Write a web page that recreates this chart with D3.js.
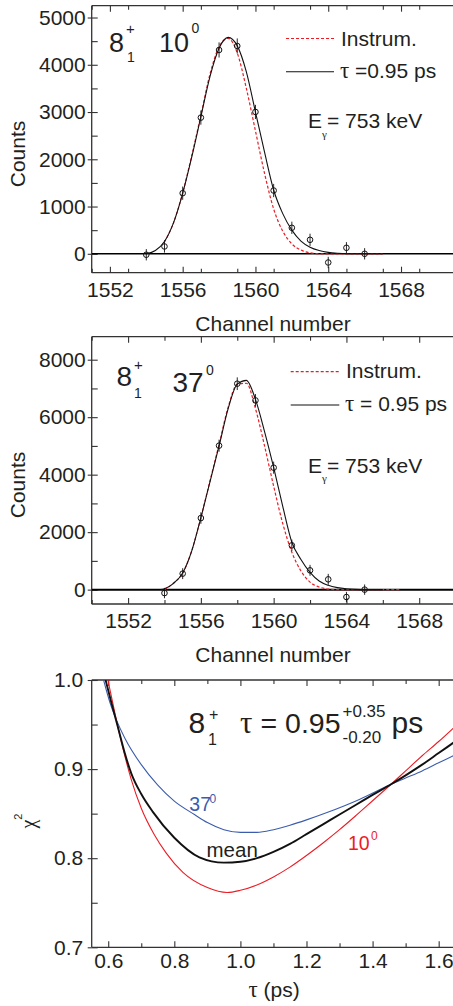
<!DOCTYPE html>
<html>
<head>
<meta charset="utf-8">
<script src="https://cdn.jsdelivr.net/npm/d3@7"></script>
<style>
  html, body { margin: 0; padding: 0; background: #fff; }
  svg { display: block; }
  text { font-family: "Liberation Sans", Arial, sans-serif; fill: #231f20; }
  .greek { font-family: "Liberation Serif", "Times New Roman", serif; }
</style>
</head>
<body>
<svg id="chart" width="453" height="1006"></svg>
<script>
// ---------------- DATA ----------------
// Panel 1 (10 deg)
const p1Channels = [1554,1555,1556,1557,1558,1559,1560,1561,1562,1563,1564,1565,1566];
const p1Counts   = [-20,155,1283,2882,4313,4397,3002,1339,550,296,-184,127,0];
const p1Errors   = [120,130,140,150,160,160,150,140,130,130,120,120,120];
const p1FitX  = [1554,1554.5,1555,1555.5,1556,1556.5,1557,1557.5,1558,1558.5,1559,1559.5,1560,1560.5,1561,1561.5,1562,1562.5,1563,1563.5,1564,1564.5,1565,1566,1567];
const p1FitY  = [0,70,260,660,1280,2050,2900,3750,4350,4580,4400,3850,3000,2150,1350,850,500,270,140,70,30,10,0,0,0];
const p1InstX = [1555,1555.5,1556,1556.5,1557,1557.5,1558,1558.5,1559,1559.5,1560,1560.5,1561,1561.5,1562,1562.5,1563,1563.5,1564,1565,1566,1567];
const p1InstY = [250,660,1290,2080,2930,3800,4380,4560,4250,3500,2600,1700,950,480,210,80,20,0,0,0,0,0];
const p1XTicks = [1552,1556,1560,1564,1568];
const p1YTicks = [0,1000,2000,3000,4000,5000];

// Panel 2 (37 deg)
const p2Channels = [1554,1555,1556,1557,1558,1559,1560,1561,1562,1563,1564,1565];
const p2Counts   = [-120,556,2490,5009,7165,6584,4243,1541,671,358,-257,0];
const p2Errors   = [180,190,200,210,220,220,210,200,190,190,180,180];
const p2FitX  = [1553.8,1554,1554.5,1555,1555.5,1556,1556.5,1557,1557.5,1558,1558.5,1559,1559.5,1560,1560.5,1561,1561.5,1562,1562.5,1563,1563.5,1564,1564.5,1565,1566];
const p2FitY  = [0,30,220,580,1350,2500,3750,5000,6300,7150,7280,6620,5500,4250,2900,1650,1050,600,300,150,70,30,10,0,0];
const p2InstX = [1554,1554.5,1555,1555.5,1556,1556.5,1557,1557.5,1558,1558.5,1559,1559.5,1560,1560.5,1561,1561.5,1562,1562.5,1563,1563.5,1564,1565,1566,1567];
const p2InstY = [0,230,570,1360,2510,3780,5050,6350,7150,7180,6300,5000,3600,2300,1300,650,260,90,20,0,0,0,0,0];
const p2XTicks = [1552,1556,1560,1564,1568];
const p2YTicks = [0,2000,4000,6000,8000];

// Panel 3 (chi^2 vs tau)
const tau37  = [0.586,0.605,0.625,0.65,0.70,0.75,0.80,0.861,0.90,0.95,1.00,1.05,1.10,1.15,1.20,1.26,1.36,1.456,1.50,1.55,1.60,1.65];
const chi37  = [1.0,0.975,0.955,0.935,0.905,0.882,0.864,0.849,0.840,0.832,0.829,0.829,0.832,0.837,0.843,0.851,0.866,0.883,0.890,0.898,0.907,0.916];
const tauMean = [0.592,0.61,0.63,0.65,0.67,0.70,0.735,0.80,0.876,0.95,1.00,1.05,1.10,1.15,1.20,1.25,1.30,1.35,1.40,1.456,1.50,1.55,1.60,1.65];
const chiMean = [1.0,0.974,0.946,0.918,0.895,0.872,0.852,0.823,0.801,0.795,0.796,0.800,0.807,0.816,0.827,0.838,0.849,0.860,0.871,0.883,0.893,0.905,0.918,0.931];
const tau10  = [0.599,0.615,0.63,0.65,0.67,0.70,0.74,0.775,0.826,0.90,0.96,1.00,1.05,1.10,1.15,1.20,1.25,1.30,1.35,1.40,1.456,1.50,1.55,1.60,1.65];
const chi10  = [1.0,0.972,0.946,0.915,0.888,0.856,0.826,0.806,0.784,0.767,0.7615,0.764,0.770,0.779,0.790,0.803,0.817,0.832,0.848,0.8645,0.883,0.898,0.915,0.931,0.948];
const p3XTicks = [0.6,0.8,1.0,1.2,1.4,1.6];
const p3YTicks = [0.7,0.8,0.9,1.0];

// ---------------- DRAWING ----------------
const svg = d3.select("#chart");
const AX = "#333";
const RED = "#ec1c24";
const BLUE = "#3b5cad";
const L = 91.7;

function frame(g, x, y, top, bottom, xMajor, xMinor, yMajor, yMinor, xFmt, yFmt, xPad, yPad) {
  const gb = g.append("g").attr("transform", `translate(0,${bottom})`);
  gb.call(d3.axisBottom(x).tickValues(xMajor).tickSize(-6).tickSizeOuter(0).tickPadding(xPad).tickFormat(xFmt));
  gb.append("g").call(d3.axisBottom(x).tickValues(xMinor).tickSize(-4).tickSizeOuter(0).tickFormat(""));
  const gt = g.append("g").attr("transform", `translate(0,${top})`);
  gt.call(d3.axisTop(x).tickValues(xMajor).tickSize(-6).tickSizeOuter(0).tickFormat(""));
  gt.append("g").call(d3.axisTop(x).tickValues(xMinor).tickSize(-4).tickSizeOuter(0).tickFormat(""));
  const gl = g.append("g").attr("transform", `translate(${L},0)`);
  gl.call(d3.axisLeft(y).tickValues(yMajor).tickSize(4).tickSizeOuter(0).tickPadding(yPad).tickFormat(yFmt));
  gl.append("g").call(d3.axisLeft(y).tickValues(yMajor.concat(yMinor)).tickSize(-6).tickSizeOuter(0).tickFormat(""));
  g.selectAll(".domain").remove();
  g.selectAll(".tick line").attr("stroke", AX).attr("stroke-width", 1.1);
  g.selectAll(".tick text").attr("font-size", 21).attr("fill", "#231f20")
    .style("font-family", "'Liberation Sans', Arial, sans-serif");
  g.append("line").attr("x1", L).attr("x2", 460).attr("y1", bottom).attr("y2", bottom).attr("stroke", AX).attr("stroke-width", 1.3);
  g.append("line").attr("x1", L).attr("x2", 460).attr("y1", top).attr("y2", top).attr("stroke", AX).attr("stroke-width", 1.3);
  g.append("line").attr("x1", L).attr("x2", L).attr("y1", top).attr("y2", bottom).attr("stroke", AX).attr("stroke-width", 1.3);
}

function txt(g, x, y, s, size, opts = {}) {
  const t = g.append("text").attr("x", x).attr("y", y).attr("font-size", size).text(s);
  if (opts.fill) t.style("fill", opts.fill);
  if (opts.cls) t.attr("class", opts.cls);
  if (opts.anchor) t.attr("text-anchor", opts.anchor);
  return t;
}

function spectrumPanel(cfg) {
  const g = svg.append("g");
  const x = d3.scaleLinear().domain(cfg.xDom).range([L, 455.6]);
  const y = d3.scaleLinear().domain(cfg.yDom).range([cfg.bottom, cfg.top]);
  const clipId = "clip" + cfg.id;
  svg.append("clipPath").attr("id", clipId).append("rect")
    .attr("x", L).attr("y", cfg.top).attr("width", 453 - L).attr("height", cfg.bottom - cfg.top);
  const xMinor = d3.range(cfg.xDom[0], cfg.xDom[1] + 0.01, 2).filter(v => !cfg.xTicks.includes(v));
  const yMinor = d3.range(cfg.yTicks[0] + cfg.yStep / 2, cfg.yDom[1], cfg.yStep).filter(v => !cfg.yTicks.includes(v));
  frame(g, x, y, cfg.top, cfg.bottom, cfg.xTicks, xMinor, cfg.yTicks, yMinor, d3.format("d"), d3.format("d"), 9.5, 2);

  const pg = g.append("g").attr("clip-path", `url(#${clipId})`);
  pg.append("line").attr("x1", L).attr("x2", 453).attr("y1", y(0)).attr("y2", y(0))
    .attr("stroke", "#000").attr("stroke-width", cfg.zeroW);
  const line = d3.line().x(d => x(d[0])).y(d => y(d[1])).curve(d3.curveMonotoneX);
  pg.append("path").datum(d3.zip(cfg.instX, cfg.instY)).attr("d", line)
    .attr("fill", "none").attr("stroke", RED).attr("stroke-width", 1.2).attr("stroke-dasharray", "3,2");
  pg.append("path").datum(d3.zip(cfg.fitX, cfg.fitY)).attr("d", line)
    .attr("fill", "none").attr("stroke", "#111").attr("stroke-width", 1.1);
  const pts = d3.zip(cfg.ch, cfg.counts, cfg.err);
  pg.selectAll(".eb").data(pts).join("line").attr("class", "eb")
    .attr("x1", d => x(d[0])).attr("x2", d => x(d[0]))
    .attr("y1", d => y(d[1] - d[2])).attr("y2", d => y(d[1] + d[2]))
    .attr("stroke", "#111").attr("stroke-width", 0.9);
  pg.selectAll(".pt").data(pts).join("circle").attr("class", "pt")
    .attr("cx", d => x(d[0])).attr("cy", d => y(d[1])).attr("r", 2.8)
    .attr("fill", "none").attr("stroke", "#111").attr("stroke-width", 1);

  txt(g, 273, cfg.bottom + 58, "Channel number", 21, { anchor: "middle" });
  g.append("text").attr("transform", `translate(25,${cfg.countsY}) rotate(-90)`)
    .attr("text-anchor", "middle").attr("font-size", 21).text("Counts");
  return { g, x, y };
}

// ---- Panel 1 ----
const P1 = spectrumPanel({ id: 1, xDom: [1551, 1571], yDom: [-400, 5250], top: 5.7, bottom: 272.7,
  xTicks: p1XTicks, yTicks: p1YTicks, yStep: 1000, zeroW: 1.5,
  ch: p1Channels, counts: p1Counts, err: p1Errors,
  fitX: p1FitX, fitY: p1FitY, instX: p1InstX, instY: p1InstY, countsY: 154 });
{
  const g = P1.g;
  txt(g, 109, 52, "8", 27);
  txt(g, 126, 34, "+", 15);
  txt(g, 127, 62, "1", 14);
  txt(g, 159, 52, "10", 27);
  txt(g, 191.5, 33, "0", 14);
  g.append("line").attr("x1", 286).attr("x2", 334).attr("y1", 38.5).attr("y2", 38.5)
    .attr("stroke", RED).attr("stroke-width", 1.2).attr("stroke-dasharray", "3,2");
  txt(g, 341, 46, "Instrum.", 21);
  g.append("line").attr("x1", 286).attr("x2", 334).attr("y1", 71.7).attr("y2", 71.7)
    .attr("stroke", "#111").attr("stroke-width", 1.1);
  const t = g.append("text").attr("x", 340).attr("y", 78).attr("font-size", 21);
  t.append("tspan").attr("class", "greek").attr("font-size", 23).text("τ");
  t.append("tspan").text(" =0.95 ps");
  txt(g, 308, 128, "E", 21);
  txt(g, 322, 137.5, "γ", 11, { cls: "greek" });
  txt(g, 327, 128, "= 753 keV", 21);
}

// ---- Panel 2 ----
const P2 = spectrumPanel({ id: 2, xDom: [1550, 1570], yDom: [-500, 8800], top: 336.7, bottom: 604,
  xTicks: p2XTicks, yTicks: p2YTicks, yStep: 2000, zeroW: 2,
  ch: p2Channels, counts: p2Counts, err: p2Errors,
  fitX: p2FitX, fitY: p2FitY, instX: p2InstX, instY: p2InstY, countsY: 485 });
{
  const g = P2.g;
  txt(g, 116.5, 386, "8", 28);
  txt(g, 134, 370, "+", 15);
  txt(g, 134, 398, "1", 14);
  txt(g, 172.5, 391.5, "37", 28);
  txt(g, 206, 375, "0", 14);
  g.append("line").attr("x1", 290.7).attr("x2", 339.3).attr("y1", 371.7).attr("y2", 371.7)
    .attr("stroke", RED).attr("stroke-width", 1.2).attr("stroke-dasharray", "3,2");
  txt(g, 346, 378.3, "Instrum.", 21);
  g.append("line").attr("x1", 290.7).attr("x2", 339.3).attr("y1", 405).attr("y2", 405)
    .attr("stroke", "#111").attr("stroke-width", 1.1);
  const t = g.append("text").attr("x", 345).attr("y", 411).attr("font-size", 21);
  t.append("tspan").attr("class", "greek").attr("font-size", 23).text("τ");
  t.append("tspan").text(" = 0.95 ps");
  txt(g, 308, 473, "E", 21);
  txt(g, 322, 482, "γ", 11, { cls: "greek" });
  txt(g, 327, 473, "= 753 keV", 21);
}

// ---- Panel 3 ----
{
  const top = 680, bottom = 947.3;
  const g = svg.append("g");
  const x = d3.scaleLinear().domain([0.55, 1.65]).range([L, 455.2]);
  const y = d3.scaleLinear().domain([0.7, 1.0]).range([bottom, top]);
  svg.append("clipPath").attr("id", "clip3").append("rect")
    .attr("x", L).attr("y", top).attr("width", 453 - L).attr("height", bottom - top);
  frame(g, x, y, top, bottom, p3XTicks, [0.7, 0.9, 1.1, 1.3, 1.5], p3YTicks, [0.75, 0.85, 0.95],
    d3.format(".1f"), d3.format(".1f"), 5.5, 4.4);
  const pg = g.append("g").attr("clip-path", "url(#clip3)");
  const line = d3.line().x(d => x(d[0])).y(d => y(d[1])).curve(d3.curveMonotoneX);
  pg.append("path").datum(d3.zip(tau37, chi37)).attr("d", line)
    .attr("fill", "none").attr("stroke", BLUE).attr("stroke-width", 1.1);
  pg.append("path").datum(d3.zip(tau10, chi10)).attr("d", line)
    .attr("fill", "none").attr("stroke", RED).attr("stroke-width", 1.1);
  pg.append("path").datum(d3.zip(tauMean, chiMean)).attr("d", line)
    .attr("fill", "none").attr("stroke", "#111").attr("stroke-width", 1.9);

  txt(g, 188.5, 733, "8", 30);
  txt(g, 209, 720, "+", 16);
  txt(g, 208, 745, "1", 16);
  txt(g, 240, 733, "τ", 31, { cls: "greek" });
  txt(g, 260.5, 733, "= 0.95", 28.5);
  txt(g, 342.5, 716.5, "+0.35", 17);
  txt(g, 342.5, 743, "-0.20", 17);
  txt(g, 391.5, 733, "ps", 30);

  txt(g, 189.3, 811, "37", 19.5, { fill: BLUE });
  txt(g, 209.5, 803, "0", 12, { fill: BLUE });
  txt(g, 206.5, 856.5, "mean", 20.5);
  txt(g, 348, 850, "10", 19.5, { fill: RED });
  txt(g, 371, 840, "0", 12, { fill: RED });

  const xt = g.append("text").attr("x", 274).attr("y", 997).attr("text-anchor", "middle").attr("font-size", 21);
  xt.append("tspan").attr("class", "greek").attr("font-size", 23).text("τ");
  xt.append("tspan").text(" (ps)");

  const yl = g.append("text").attr("transform", "translate(35,821) rotate(-90)").attr("text-anchor", "middle").attr("font-size", 20);
  yl.append("tspan").attr("class", "greek").text("χ");
  yl.append("tspan").attr("font-size", 11).attr("dy", -13).text("2");
}
</script>
</body>
</html>
